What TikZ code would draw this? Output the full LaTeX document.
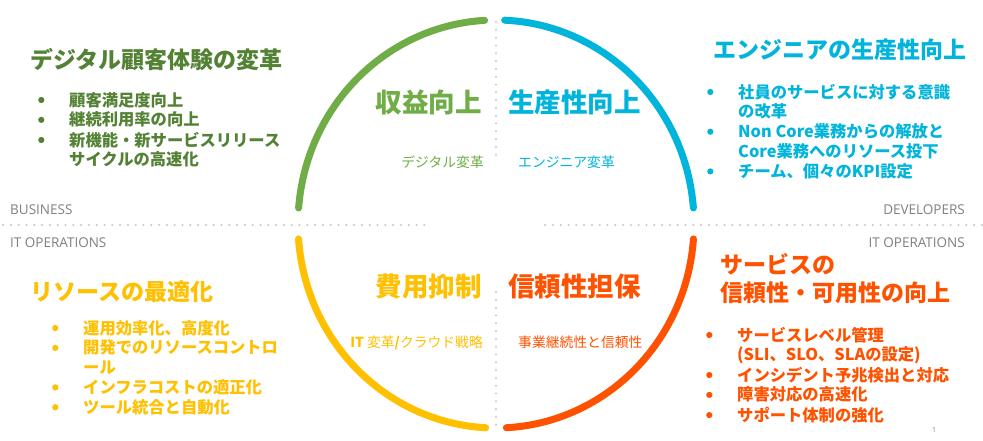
\documentclass[tikz,border=0pt]{standalone}
\usepackage{fontspec}
\setmainfont{Noto Sans CJK JP}
\newfontfamily\latfont{Open Sans}
\usetikzlibrary{calc}
\definecolor{cgreen}{HTML}{70AD47}
\definecolor{cgreendk}{HTML}{548235}
\definecolor{cblue}{HTML}{00B4DC}
\definecolor{cyellow}{HTML}{FFC000}
\definecolor{corange}{HTML}{FF5200}
\definecolor{cgray}{HTML}{808080}
\definecolor{cdot}{HTML}{C8C8C8}
\newcommand\mybul{\tikz[baseline=-6pt]\fill (0pt,0pt) circle (3.1pt);}
\newcommand\bitem{\makebox[31pt][l]{\mybul}}
\newcommand\bcont{\hspace*{31pt}}
\begin{document}
\begin{tikzpicture}[x=1pt,y=-1pt,
  dotline/.style={cdot, line width=2.2pt, line cap=round, dash pattern=on 0.2pt off 7.6pt},
  ring/.style={line width=7pt, line cap=round},
  ttl/.style={inner sep=0pt, font=\bfseries\fontsize{23}{28}\selectfont},
  big/.style={inner sep=0pt, font=\bfseries\fontsize{26.5}{30}\selectfont},
  sub/.style={inner sep=0pt, font=\fontsize{13.8}{16}\selectfont},
  blk/.style={anchor=base west, inner sep=0pt, font=\bfseries\fontsize{16.3}{19.7}\selectfont},
  lbl/.style={inner sep=0pt, text=cgray, font=\latfont\fontsize{13.5}{16}\selectfont}]
\useasboundingbox[fill=white] (0,0) rectangle (983,440);

% dotted dividers
\coordinate (vt1) at (496,22);  \coordinate (vt2) at (496,156);
\coordinate (vb1) at (496,292); \coordinate (vb2) at (496,432);
\coordinate (hl1) at (3,225);   \coordinate (hl2) at (427,225);
\coordinate (hr1) at (545,225); \coordinate (hr2) at (983,225);
\draw[dotline] (vt1) -- (vt2);
\draw[dotline] (vb1) -- (vb2);
\draw[dotline] (hl1) -- (hl2);
\draw[dotline] (hr1) -- (hr2);

% ring arcs
\coordinate (c) at (496,224);
\draw[ring,cgreen]  ($(c)+(-93.3:198 and 204)$) arc[start angle=-93.3, end angle=-175.5, x radius=198, y radius=204];
\draw[ring,cblue]   ($(c)+(-87.5:198 and 204)$) arc[start angle=-87.5, end angle=-4.5, x radius=198, y radius=204];
\draw[ring,corange] ($(c)+(4.2:198 and 204)$)   arc[start angle=4.2, end angle=87, x radius=198, y radius=204];
\draw[ring,cyellow] ($(c)+(93:198 and 204)$)    arc[start angle=93, end angle=175.8, x radius=198, y radius=204];

% centre titles
\node[big, anchor=base east, text=cgreen]  (t1) at (482,112.9) {収益向上};
\node[big, anchor=base west, text=cblue]   (t2) at (508,112.9) {生産性向上};
\node[big, anchor=base east, text=cyellow] (t3) at (482,296.9) {費用抑制};
\node[big, anchor=base west, text=corange] (t4) at (508,296.9) {信頼性担保};
\node[sub, anchor=base east, text=cgreen]  (s1) at (484,167) {デジタル変革};
\node[sub, anchor=base west, text=cblue]   (s2) at (518,167) {エンジニア変革};
\node[sub, anchor=base east, text=cyellow] (s3) at (483,347) {\textbf{IT} 変革\textbf{/}クラウド戦略};
\node[sub, anchor=base west, text=corange] (s4) at (518,347) {事業継続性と信頼性};

% side labels
\node[lbl, anchor=base west] (l1) at (10,214.8) {BUSINESS};
\node[lbl, anchor=base west] (l2) at (10,247.8) {IT OPERATIONS};
\node[lbl, anchor=base east] (l3) at (965,214.8) {DEVELOPERS};
\node[lbl, anchor=base east] (l4) at (965,247.8) {IT OPERATIONS};
\node[inner sep=0pt, text=cgray, font=\latfont\fontsize{7}{8}\selectfont] (pg) at (934,430) {1};

% quadrant titles
\node[ttl, anchor=base west, text=cgreendk] (q1) at (30,68.7) {デジタル顧客体験の変革};
\node[ttl, anchor=base west, text=cblue]    (q2) at (713,58.7) {エンジニアの生産性向上};
\node[ttl, anchor=base west, text=cyellow]  (q3) at (30,300.7) {リソースの最適化};
\node[ttl, anchor=base west, text=corange]  (q4) at (720,273.7) {サービスの};
\node[ttl, anchor=base west, text=corange]  (q4b) at (720,301.7) {信頼性・可用性の向上};

% bullet lists
\node[blk, text=cgreendk] (b1) at (38,106) {\begin{tabular}[t]{@{}l@{}}
\bitem 顧客満足度向上\\
\bitem 継続利用率の向上\\
\bitem 新機能・新サービスリリース\\
\bcont サイクルの高速化
\end{tabular}};
\node[blk, text=cblue] (b2) at (707,98) {\begin{tabular}[t]{@{}l@{}}
\bitem 社員のサービスに対する意識\\
\bcont の改革\\
\bitem Non Core業務からの解放と\\
\bcont Core業務へのリソース投下\\
\bitem チーム、個々のKPI設定
\end{tabular}};
\node[blk, text=cyellow] (b3) at (52,334) {\begin{tabular}[t]{@{}l@{}}
\bitem 運用効率化、高度化\\
\bitem 開発でのリソースコントロ\\
\bcont ール\\
\bitem インフラコストの適正化\\
\bitem ツール統合と自動化
\end{tabular}};
\node[blk, text=corange] (b4) at (706,341) {\begin{tabular}[t]{@{}l@{}}
\bitem サービスレベル管理\\
\bcont (SLI、SLO、SLAの設定)\\
\bitem インシデント予兆検出と対応\\
\bitem 障害対応の高速化\\
\bitem サポート体制の強化
\end{tabular}};
\end{tikzpicture}
\end{document}
